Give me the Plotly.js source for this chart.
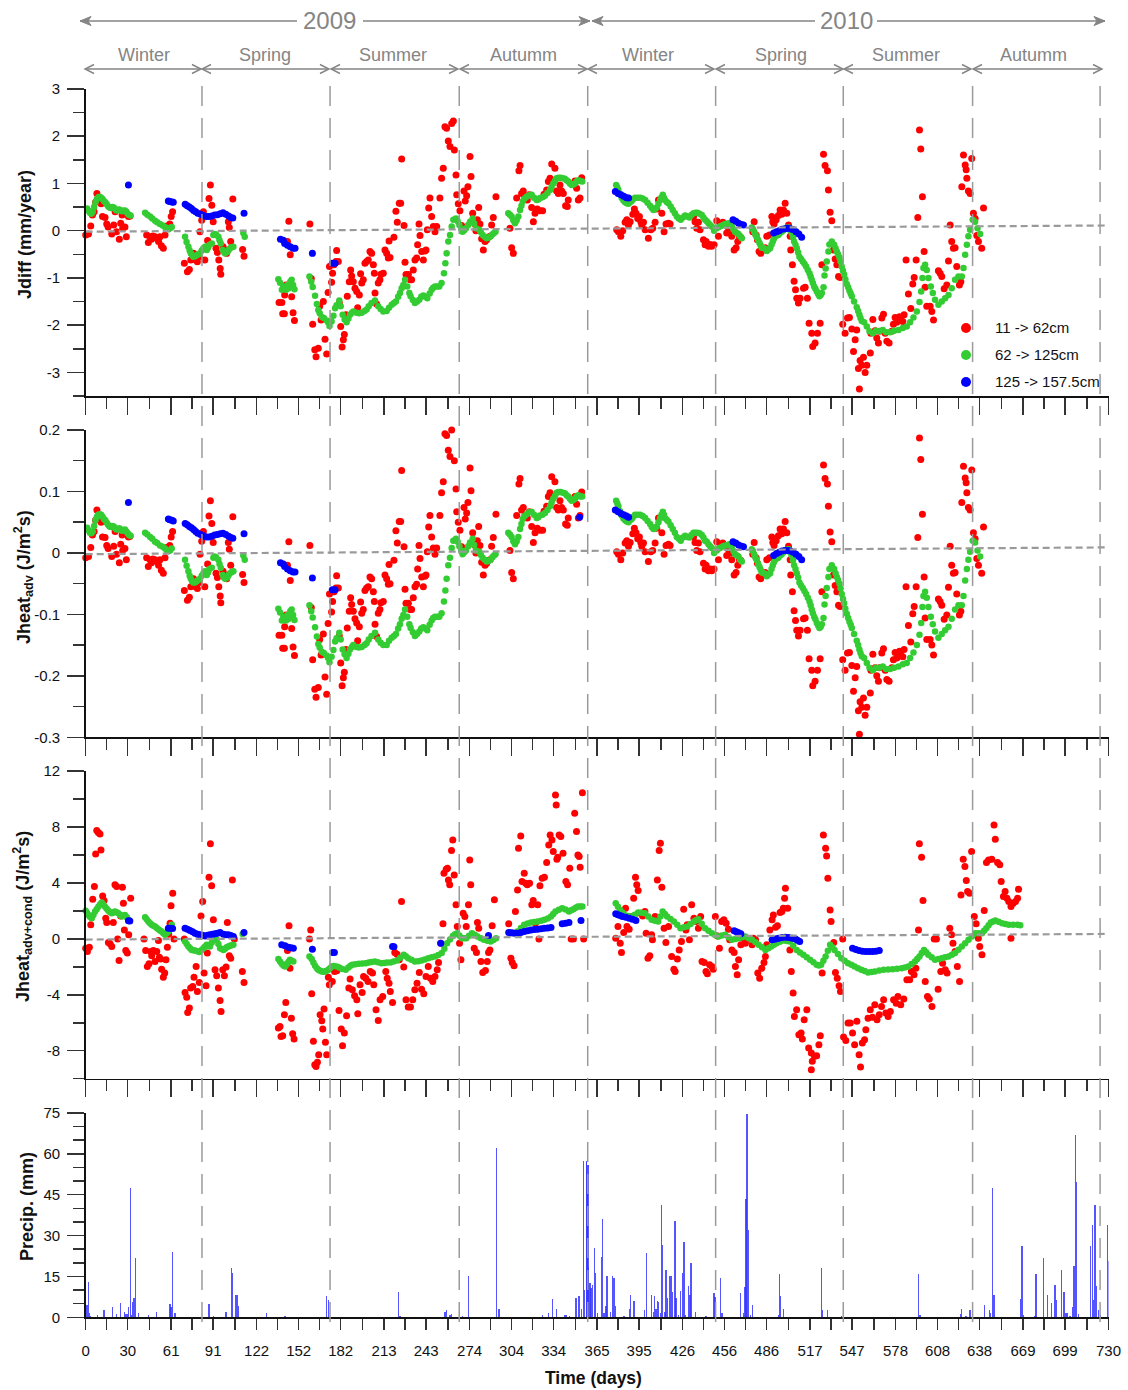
<!DOCTYPE html>
<html><head><meta charset="utf-8">
<script src="https://cdn.plot.ly/plotly-3.0.1.min.js"></script>
<style>html,body{margin:0;padding:0;background:#fff}#chart{width:1128px;height:1390px}</style>
</head><body><div id="chart"></div>
<script>
// ---------------- DATA ----------------
// [day, Jdiff (mm/year), Jheat_adv (J/m2s)]
const red12 = [
[0,-0.09,-0.008],[2,-0.07,-0.006],[3.6,0.1,0.009],[4.8,0.33,0.029],[6,0.4,0.035],[7,0.6,0.053],[8,0.79,0.07],[9.5,0.69,0.061],[11,0.57,0.05],[12,0.3,0.026],[13.8,0.28,0.025],[15,0.14,0.012],[16,0.08,0.007],[18.6,-0.07,-0.006],[20,0.12,0.011],[21,0.4,0.035],[22,-0.02,-0.002],[24,-0.18,-0.016],[25,0.16,0.014],[26,0.33,0.029],[26.4,0.05,0.004],[28,0.08,0.007],[29,-0.13,-0.011],[30.5,0.3,0.026],[31.6,0.31,0.027],
[43.5,-0.09,-0.008],[44.7,-0.25,-0.022],[46,-0.13,-0.011],[47,-0.18,-0.016],[48,-0.11,-0.01],[49.5,-0.13,-0.011],[51,-0.16,-0.014],[52,-0.23,-0.02],[53,-0.13,-0.011],[54,-0.32,-0.028],[55.4,-0.37,-0.033],[56.6,-0.09,-0.008],[58,0.1,0.009],[59,0.05,0.004],[60,0.14,0.012],[61,0.3,0.026],[62,0.4,0.035],
[70.4,-0.69,-0.061],[72.6,-0.87,-0.077],[74,-0.82,-0.072],[75,-0.62,-0.055],[77,-0.48,-0.042],[78.5,-0.62,-0.055],[79.7,-0.66,-0.058],[81,-0.55,-0.048],[81.6,-0.02,-0.002],[82.8,0.22,0.019],[84,0.4,0.035],[85,-0.62,-0.055],[87,-0.21,-0.018],[88,0.68,0.06],[89,0.97,0.085],[90,0.54,0.048],[91,0.19,0.017],[93,-0.37,-0.033],[94,-0.46,-0.04],[95,-0.62,-0.055],[96,-0.8,-0.07],[96.4,-0.92,-0.081],[98,-0.34,-0.03],[99.5,-0.41,-0.036],[100.6,-0.48,-0.042],[101.8,0.19,0.017],[102.5,0.07,0.006],[103.5,-0.23,-0.02],[105,0.67,0.059],[112,-0.4,-0.035],[113,-0.54,-0.048],
[138,-1.52,-0.134],[140,-1.52,-0.134],[140.6,-1.76,-0.155],[141.8,-1.76,-0.155],[142,-1.36,-0.12],[143,-1.15,-0.101],[144,-0.23,-0.02],[145,0.2,0.018],[146,-0.51,-0.045],[147,-1.4,-0.123],[148,-1.74,-0.153],[149,-1.9,-0.167],
[160,0.14,0.012],[161,-1.01,-0.089],[162,-1.98,-0.174],[163.5,-2.52,-0.222],[164.4,-2.67,-0.235],[166,-2.49,-0.219],[167,-1.6,-0.141],[168,-1.89,-0.166],[169.6,-1.5,-0.132],[170.8,-2.3,-0.202],[172,-2.61,-0.23],[173,-1.31,-0.115],[174,-0.76,-0.067],[175.5,-1.09,-0.096],[176.2,-0.9,-0.079],[177.2,-0.72,-0.063],[178.6,-0.65,-0.057],[179.1,-0.42,-0.037],[180.3,-0.65,-0.057],[181,-1.53,-0.135],[182,-2.03,-0.179],[183,-2.46,-0.216],[183.9,-2.31,-0.203],[184.6,-2.2,-0.194],[185.8,-1.78,-0.157],[186.7,-1.39,-0.122],[188.1,-1.08,-0.095],[189.1,-0.83,-0.073],[189.8,-0.96,-0.084],[191,-1.08,-0.095],[192.2,-1.22,-0.107],[193.4,-1.29,-0.114],[194.1,-1.63,-0.143],[195.3,-1.36,-0.12],[196.2,-0.91,-0.08],[197,-1.11,-0.098],[198.1,-1.04,-0.092],[199.3,-0.69,-0.061],[200.5,-0.65,-0.057],[201.7,-0.62,-0.055],[202.9,-0.44,-0.039],[204.1,-0.48,-0.042],[205.3,-0.72,-0.063],[206,-0.9,-0.079],[206.5,-1.32,-0.116],[207.6,-1.55,-0.136],[208.8,-1.11,-0.098],[210,-1.04,-0.092],[210.7,-0.92,-0.081],[212.4,-0.9,-0.079],[213.6,-0.41,-0.036],[214.8,-0.48,-0.042],[216,-0.58,-0.051],[216.5,-0.22,-0.019],[217.2,-0.57,-0.05],[220,-0.14,-0.012],[221.4,0.41,0.036],[222.4,0.18,0.016],[223.8,0.58,0.051],[224.8,0.58,0.051],[225.5,1.52,0.134],[227.2,0.11,0.01],[227.9,-0.67,-0.059],[228.6,-0.93,-0.082],[230.3,-0.93,-0.082],[231.5,-1.04,-0.092],[232.6,-1.04,-0.092],[233.8,-0.83,-0.073],[235,-0.62,-0.055],[236.2,-0.58,-0.051],[236.9,-0.3,-0.026],[237.9,0.14,0.012],[238.6,-0.1,-0.009],[239.8,-0.44,-0.039],[241,-0.62,-0.055],[242.1,-0.43,-0.038],[242.9,-0.41,-0.036],[243.8,0.02,0.002],[244.8,0.48,0.042],[245.7,0.69,0.061],[246.9,0.3,0.026],[248.1,0.09,0.008],[249.3,-0.02,-0.002],[250.5,0.09,0.008],[252.8,0.69,0.061],[254,1.11,0.098],[255.2,1.32,0.116],[256.4,2.2,0.194],[257.6,2.17,0.191],[258.8,1.9,0.167],[260,1.78,0.157],[261.2,2.27,0.2],[262.4,2.32,0.204],[263.1,1.71,0.15],[264.3,1.18,0.104],[264.8,0.76,0.067],[265.9,0.57,0.05],[267.1,0.42,0.037],[268.3,0.11,0.01],[270,0.84,0.074],[270.9,0.63,0.055],[271.9,0.74,0.065],[272.8,0.93,0.082],[274.3,1.57,0.138],[275,1.15,0.101],[276.2,0.37,0.033],[277.8,0.14,0.012],[278.5,0,0],[279.5,0.23,0.02],[280.5,0.49,0.043],[281.4,0.14,0.012],[282.6,-0.17,-0.015],[283.8,-0.41,-0.036],[285,-0.23,-0.02],[286.2,-0.19,-0.017],[288.5,-0.12,-0.011],[289.7,0.12,0.011],[290.9,0.28,0.025],[292.8,0.72,0.063],[302.8,0.05,0.004],[304,-0.36,-0.032],[305.2,-0.48,-0.042],[306.4,0.19,0.017],[307.6,0.69,0.061],[309.2,1.27,0.112],[310,1.38,0.121],[311.1,0.79,0.07],[312.3,0.84,0.074],[313.5,0.69,0.061],[315.2,0.65,0.057],[316.6,0.76,0.067],[318.3,0.49,0.043],[319.5,0.19,0.017],[320.7,0.37,0.033],[322.3,0.46,0.04],[324.2,0.42,0.037],[326.1,0.42,0.037],[327.1,0.77,0.068],[329,0.86,0.076],[330.2,1.04,0.092],[331.4,1.11,0.098],[332.6,1.41,0.124],[333.7,1.05,0.092],[334.9,1.32,0.116],[336.1,0.84,0.074],[337.3,0.79,0.07],[338.5,0.97,0.085],[339.7,0.84,0.074],[340.9,0.79,0.07],[342.5,0.53,0.047],[343.7,0.51,0.045],[344.4,0.65,0.057],[349.2,1.05,0.092],[350.4,0.9,0.079],[351.6,0.65,0.057],[352.8,0.69,0.061],[354,1.12,0.099],
[379,0.02,0.002],[380.2,-0.02,-0.002],[381.9,-0.12,-0.011],[383.3,0,0],[385,0.18,0.016],[386.2,0.23,0.02],[387.4,0.12,0.011],[388.6,0.19,0.017],[390.5,0.35,0.031],[391.6,0.46,0.04],[392.8,0.37,0.033],[394,0.26,0.023],[395.2,0.3,0.026],[396.2,0.19,0.017],[396.9,0.12,0.011],[398.1,0.18,0.016],[399.3,0.02,0.002],[401.6,-0.16,-0.014],[403.3,0.02,0.002],[404.7,0.05,0.004],[406.4,0.18,0.016],[407.6,0.46,0.04],[408.8,0.65,0.057],[411.2,0.37,0.033],[412.8,-0.02,-0.002],[414.2,0.14,0.012],[415.9,0.16,0.014],[417.1,0.14,0.012],[433.8,0.3,0.026],[434.9,0.19,0.017],[436.1,0.05,0.004],[437.3,0.18,0.016],[438.5,0.02,0.002],[440.9,-0.19,-0.017],[442.1,-0.3,-0.026],[442.8,-0.23,-0.02],[444.5,-0.33,-0.029],[445.7,-0.29,-0.026],[446.8,-0.33,-0.029],[448.5,-0.3,-0.026],[450.4,0.21,0.018],[451.6,-0.12,-0.011],[453.3,0.12,0.011],[454.7,0.18,0.016],[455.6,0.14,0.012],[457.5,-0.05,-0.004],[458.7,0.07,0.006],[459.9,0,0],[461.1,-0.12,-0.011],[462.8,-0.41,-0.036],[464.2,-0.36,-0.032],[465.4,-0.23,-0.02],[466.6,-0.12,-0.011],[467.5,-0.14,-0.012],[476.1,-0.02,-0.002],[477.1,0.19,0.017],[478.5,-0.09,-0.008],[479.4,-0.19,-0.017],[480.6,-0.44,-0.039],[481.8,-0.48,-0.042],[483.2,-0.41,-0.036],[484.9,-0.36,-0.032],[486.1,-0.12,-0.011],[488,-0.09,-0.008],[489.7,0.3,0.026],[490.4,0.19,0.017],[491.3,0.14,0.012],[492.8,0.23,0.02],[494.4,0.32,0.028],[495.6,0.44,0.039],[496.8,0.35,0.031],[498,0.44,0.039],[499.2,0.58,0.051],[500.4,0.37,0.033],[501.6,0.12,0.011],[502.8,-0.12,-0.011],[503.2,-0.41,-0.036],[504.4,-0.72,-0.063],[505.6,-1.07,-0.094],[506.6,-1.25,-0.11],[507.5,-1.43,-0.126],[508.7,-1.53,-0.135],[509.9,-1.43,-0.126],[512.3,-1.22,-0.107],[513.5,-1.2,-0.106],[515.1,-1.43,-0.126],[516.3,-1.96,-0.172],[518.2,-2.17,-0.191],[518.9,-2.45,-0.216],[520.6,-2.38,-0.209],[522.3,-2.17,-0.191],[524.2,-1.96,-0.172],[525.4,-0.72,-0.063],[526.6,1.62,0.143],[527.7,1.38,0.121],[529.4,1.27,0.112],[530.1,0.86,0.076],[531.3,0.39,0.034],[532.5,0.21,0.018],[533.7,-0.41,-0.036],[534.9,-0.6,-0.053],[536.1,-0.72,-0.063],[537.3,-0.97,-0.085],[538.4,-0.99,-0.087],[540.3,-1.98,-0.174],[542,-2.17,-0.191],[543.7,-1.85,-0.163],[545.1,-1.84,-0.162],[546.8,-2.08,-0.183],[548,-2.56,-0.225],[549.2,-2.31,-0.203],[550.3,-2.1,-0.185],[551.5,-2.92,-0.257],[552.2,-3.35,-0.295],[552.7,-2.75,-0.242],[553.9,-2.85,-0.251],[555.1,-2.68,-0.236],[556.3,-3,-0.264],[557.5,-2.85,-0.251],[560,-2.59,-0.228],[560.4,-2.17,-0.191],[561.8,-1.88,-0.165],[563.4,-2.12,-0.187],[564.6,-2.27,-0.2],[565.8,-2.38,-0.209],[566.5,-2.13,-0.187],[568.2,-1.85,-0.163],[569.4,-1.77,-0.156],[570.6,-2.17,-0.191],[571.8,-2.34,-0.206],[573.4,-2.38,-0.209],[575.3,-2.13,-0.187],[576.5,-1.98,-0.174],[577.7,-1.84,-0.162],[578.9,-1.94,-0.171],[580.8,-1.82,-0.16],[581.7,-1.89,-0.166],[583.2,-1.92,-0.169],[584.1,-1.78,-0.157],[585.5,-0.62,-0.055],[587.2,-1.34,-0.118],[588.9,-1.65,-0.145],[590.3,-1.13,-0.099],[591.3,-0.99,-0.087],[592.7,-0.62,-0.055],[593.9,0.28,0.025],[595.1,2.13,0.187],[596,1.73,0.152],[597.2,0.72,0.063],[598.4,-0.44,-0.039],[599.1,-1.2,-0.106],[600.3,-1.6,-0.141],[602.7,-1.6,-0.141],[603.9,-1.71,-0.15],[605.1,-1.89,-0.166],[608.6,-0.85,-0.075],[609.8,-0.9,-0.079],[611,-0.97,-0.085],[612.7,-1.23,-0.108],[614.6,-1.15,-0.101],[615.8,-0.64,-0.056],[617,0.12,0.011],[618.1,-0.23,-0.02],[619.3,-0.37,-0.033],[620.5,-0.36,-0.032],[621.7,-0.76,-0.067],[623.6,-1.15,-0.101],[624.6,-1.08,-0.095],[625.3,0.93,0.082],[626.5,1.6,0.141],[627.7,1.39,0.122],[628.4,1.29,0.114],[628.9,1.11,0.098],[630,0.84,0.074],[631.2,0.79,0.07],[632.4,1.53,0.135],[633.6,0.37,0.033],[634.8,0.26,0.023],[636,-0.1,-0.009],[637.2,-0.23,-0.02],[639.5,-0.37,-0.033],[640.8,0.48,0.042]
];
const green12 = [
[1,0.47,0.041],[2,0.42,0.037],[3,0.38,0.033],[4,0.36,0.032],[5,0.4,0.035],[6,0.5,0.044],[7,0.6,0.053],[8,0.67,0.059],[9,0.71,0.062],[10,0.72,0.063],[11,0.7,0.062],[12,0.67,0.059],[13,0.63,0.055],[14,0.6,0.053],[15,0.56,0.049],[16,0.52,0.046],[17,0.49,0.043],[18,0.48,0.042],[19,0.5,0.044],[20,0.49,0.043],[21,0.46,0.04],[22,0.43,0.038],[23,0.44,0.039],[24,0.45,0.04],[25,0.43,0.038],[26,0.41,0.036],[27,0.42,0.037],[28,0.43,0.038],[29,0.4,0.035],[30,0.36,0.032],[31,0.33,0.029],[32,0.32,0.028],
[42.4,0.38,0.033],[44,0.34,0.03],[46,0.3,0.026],[47.5,0.26,0.023],[49.5,0.21,0.018],[51,0.18,0.016],[53,0.14,0.012],[55,0.11,0.01],[56.6,0.08,0.007],[58,0.05,0.004],[59,0.03,0.003],[60.2,0.05,0.004],[61.4,0.08,0.007],
[70.9,-0.13,-0.011],[72,-0.24,-0.021],[73.3,-0.34,-0.03],[74.2,-0.42,-0.037],[75,-0.48,-0.042],[76,-0.52,-0.046],[76.8,-0.55,-0.048],[78,-0.54,-0.048],[79.2,-0.52,-0.046],[80.4,-0.5,-0.044],[81.6,-0.48,-0.042],[82.8,-0.42,-0.037],[84,-0.37,-0.033],[85.2,-0.34,-0.03],[86.4,-0.41,-0.036],[87.3,-0.36,-0.032],[88.3,-0.3,-0.026],[90,-0.27,-0.024],[91.1,-0.09,-0.008],[92,-0.07,-0.006],[93,-0.08,-0.007],[94.7,-0.13,-0.011],[95.5,-0.2,-0.018],[96.4,-0.27,-0.024],[97.8,-0.41,-0.036],[98.6,-0.45,-0.04],[99.5,-0.48,-0.042],[101.1,-0.45,-0.04],[102,-0.41,-0.036],[103,-0.37,-0.033],[104.2,-0.35,-0.031],[105.4,-0.34,-0.03],[112.5,-0.05,-0.004],[113.5,-0.13,-0.011],
[137.5,-1.03,-0.091],[138.7,-1.1,-0.097],[140,-1.25,-0.11],[141,-1.18,-0.104],[142,-1.2,-0.106],[143,-1.25,-0.11],[144,-1.15,-0.101],[145,-1.22,-0.107],[146,-1.08,-0.095],[147,-1.04,-0.092],[148,-1.15,-0.101],[149,-1.24,-0.109],
[159.7,-0.97,-0.085],[161,-1.08,-0.095],[162,-1.19,-0.105],[163.7,-1.38,-0.121],[165,-1.55,-0.136],[166,-1.68,-0.148],[167,-1.75,-0.154],[168.5,-1.83,-0.161],[170,-1.85,-0.163],[172,-1.9,-0.167],[173,-1.94,-0.171],[174,-2.02,-0.178],[175.5,-1.92,-0.169],[176.8,-1.8,-0.158],[178,-1.64,-0.144],[179,-1.58,-0.139],[181,-1.48,-0.13],[182,-1.6,-0.141],[183.4,-1.78,-0.157],[184.8,-1.88,-0.165],[186.2,-1.94,-0.171],[187.5,-1.86,-0.164],[188.6,-1.78,-0.157],[190,-1.74,-0.153],[191,-1.71,-0.15],[193.4,-1.74,-0.153],[195,-1.75,-0.154],[197,-1.74,-0.153],[199,-1.7,-0.15],[200.5,-1.67,-0.147],[202,-1.6,-0.141],[204,-1.53,-0.135],[206.5,-1.48,-0.13],[208.8,-1.6,-0.141],[210.5,-1.66,-0.146],[212.4,-1.71,-0.15],[214.8,-1.7,-0.15],[216.5,-1.63,-0.143],[218.4,-1.57,-0.138],[220,-1.53,-0.135],[221.4,-1.5,-0.132],[223,-1.4,-0.123],[224.3,-1.32,-0.116],[225.5,-1.22,-0.107],[226.7,-1.15,-0.101],[227.9,-1.04,-0.092],[229.5,-1.18,-0.104],[231,-1.32,-0.116],[231.9,-1.39,-0.122],[233.5,-1.47,-0.129],[235,-1.53,-0.135],[236.5,-1.5,-0.132],[238.1,-1.46,-0.128],[239.5,-1.4,-0.123],[241,-1.37,-0.121],[242.5,-1.4,-0.123],[243.8,-1.43,-0.126],[245.5,-1.33,-0.117],[246.9,-1.25,-0.11],[248,-1.21,-0.106],[249.3,-1.18,-0.104],[251,-1.18,-0.104],[252.4,-1.18,-0.104],[254,-1.11,-0.098],[255.7,-0.9,-0.079],[256.7,-0.69,-0.061],[257.6,-0.48,-0.042],[258.8,-0.23,-0.02],[260,-0.09,-0.008],[261.2,0.09,0.008],[262.4,0.23,0.02],[264.3,0.26,0.023],[265.5,0.2,0.018],[266.7,0.12,0.011],[268,0.04,0.004],[269,-0.02,-0.002],[270.2,0.01,0.001],[271.4,0.05,0.004],[273,0.12,0.011],[274.3,0.19,0.017],[276.2,0.26,0.023],[277.3,0.15,0.013],[278.5,0.05,0.004],[280.9,0.02,0.002],[282,-0.03,-0.003],[283.3,-0.09,-0.008],[284.8,-0.13,-0.011],[286.2,-0.16,-0.014],[287.5,-0.15,-0.013],[289,-0.12,-0.011],[290.2,-0.08,-0.007],[291.4,-0.05,-0.004],[292.5,-0.02,-0.002],
[301.6,0.37,0.033],[302.8,0.34,0.03],[304,0.3,0.026],[305.2,0.22,0.019],[306.4,0.16,0.014],[307.6,0.22,0.019],[308.8,0.3,0.026],[310,0.44,0.039],[311,0.53,0.047],[311.9,0.62,0.055],[313.3,0.68,0.06],[314.7,0.72,0.063],[316.5,0.75,0.066],[318.3,0.76,0.067],[320,0.7,0.062],[321.9,0.65,0.057],[323,0.66,0.058],[324.2,0.69,0.061],[326,0.71,0.062],[327.8,0.74,0.065],[329.6,0.8,0.07],[331.4,0.86,0.076],[332.5,0.93,0.082],[333.7,1,0.088],[335,1.06,0.093],[336.1,1.11,0.098],[337.5,1.12,0.099],[339,1.12,0.099],[340.5,1.11,0.098],[342,1.1,0.097],[343.2,1.07,0.094],[344.4,1.04,0.092],[345.6,1,0.088],[346.8,0.97,0.085],[348,0.98,0.086],[349.2,1,0.088],[350.4,1.04,0.092],[351.6,1.07,0.094],[353,1.05,0.092],[354.4,1.04,0.092],
[378.6,0.97,0.085],[379.4,0.92,0.081],[380.2,0.86,0.076],[381.4,0.77,0.068],[382.6,0.69,0.061],[383.8,0.64,0.056],[385,0.6,0.053],[386.2,0.58,0.051],[387.4,0.57,0.05],[388.5,0.6,0.053],[389.7,0.63,0.055],[390.9,0.67,0.059],[392.1,0.7,0.062],[393.9,0.7,0.062],[395.7,0.7,0.062],[397.5,0.68,0.06],[399.3,0.65,0.057],[401,0.59,0.052],[402.8,0.53,0.047],[404,0.48,0.042],[405.2,0.44,0.039],[406.4,0.46,0.04],[407.6,0.49,0.043],[408.8,0.57,0.05],[410,0.65,0.057],[411,0.71,0.062],[411.9,0.76,0.067],[412.7,0.7,0.062],[413.5,0.65,0.057],[414.7,0.61,0.054],[415.9,0.58,0.051],[417.5,0.51,0.045],[419,0.44,0.039],[420.5,0.37,0.033],[421.9,0.3,0.026],[423.3,0.26,0.023],[424.7,0.23,0.02],[426.2,0.28,0.025],[427.8,0.32,0.028],[429.4,0.3,0.026],[430.9,0.28,0.025],[432.3,0.33,0.029],[433.8,0.37,0.033],[435.2,0.38,0.033],[436.6,0.38,0.033],[438.1,0.36,0.032],[439.7,0.33,0.029],[440.9,0.28,0.025],[442.1,0.23,0.02],[443.3,0.2,0.018],[444.5,0.16,0.014],[445.7,0.12,0.011],[446.8,0.09,0.008],[448.5,0,0],[450.4,0.05,0.004],[451.9,0.08,0.007],[453.3,0.1,0.009],[454.9,0.12,0.011],[456.4,0.14,0.012],[458,0.15,0.013],[459.5,0.16,0.014],[461.1,0.09,0.008],[462.3,0.03,0.003],[463.5,-0.02,-0.002],[464.7,-0.05,-0.004],[465.9,-0.07,-0.006],[467.1,-0.12,-0.011],[468.3,-0.16,-0.014],[475.4,0.07,0.006],[476.2,0.03,0.003],[477.1,-0.02,-0.002],[478,-0.08,-0.007],[479,-0.14,-0.012],[480,-0.2,-0.018],[480.9,-0.26,-0.023],[481.7,-0.31,-0.027],[482.5,-0.36,-0.032],[484.2,-0.37,-0.033],[486.1,-0.43,-0.038],[487.3,-0.4,-0.035],[488.5,-0.37,-0.033],[489.5,-0.3,-0.026],[490.4,-0.23,-0.02],[491.2,-0.17,-0.015],[492,-0.12,-0.011],[493.2,-0.1,-0.009],[494.4,-0.09,-0.008],[495.6,-0.05,-0.004],[496.8,-0.02,-0.002],[498,0.01,0.001],[499.2,0.04,0.004],[500.4,0.06,0.005],[501.6,0.07,0.006],[502.8,0.01,0.001],[503.9,-0.05,-0.004],[504.8,-0.14,-0.012],[505.6,-0.23,-0.02],[506.6,-0.3,-0.026],[507.5,-0.37,-0.033],[508.5,-0.46,-0.04],[509.4,-0.55,-0.048],[510.6,-0.6,-0.053],[511.8,-0.65,-0.057],[513,-0.7,-0.062],[514.2,-0.76,-0.067],[515.4,-0.83,-0.073],[516.6,-0.9,-0.079],[517.4,-0.97,-0.085],[518.2,-1.04,-0.092],[519,-1.11,-0.098],[519.9,-1.18,-0.104],[520.8,-1.23,-0.108],[521.8,-1.29,-0.114],[522.8,-1.34,-0.118],[523.7,-1.39,-0.122],[524.6,-1.36,-0.12],[525.4,-1.32,-0.116],[526.6,-1.2,-0.106],[527.3,-0.95,-0.084],[528.1,-0.8,-0.07],[528.9,-0.65,-0.057],[530.1,-0.44,-0.039],[530.8,-0.29,-0.026],[532.5,-0.23,-0.02],[534.2,-0.3,-0.026],[535.2,-0.37,-0.033],[536.1,-0.44,-0.039],[537,-0.5,-0.044],[538,-0.57,-0.05],[538.8,-0.66,-0.058],[539.6,-0.76,-0.067],[540.5,-0.85,-0.075],[541.3,-0.93,-0.082],[542.2,-1.03,-0.091],[543.2,-1.13,-0.099],[544.2,-1.2,-0.106],[545.1,-1.27,-0.112],[546,-1.33,-0.117],[546.8,-1.39,-0.122],[548.4,-1.5,-0.132],[550.3,-1.62,-0.143],[551.3,-1.7,-0.15],[552.2,-1.78,-0.157],[553,-1.85,-0.163],[553.9,-1.91,-0.168],[555.6,-1.94,-0.171],[557.5,-2.03,-0.179],[559.4,-2.13,-0.187],[561.8,-2.17,-0.191],[564.1,-2.12,-0.187],[566.5,-2.13,-0.187],[568.9,-2.1,-0.185],[571.3,-2.15,-0.189],[574.1,-2.15,-0.189],[577,-2.12,-0.187],[580.1,-2.1,-0.185],[583.2,-2.06,-0.181],[586,-2.03,-0.179],[588.4,-1.94,-0.171],[590.8,-1.84,-0.162],[593.2,-1.71,-0.15],[595.1,-1.51,-0.133],[596.3,-1.29,-0.114],[597.2,-1,-0.088],[597.9,-0.79,-0.07],[599.1,-0.72,-0.063],[600.3,-0.83,-0.073],[601.5,-1,-0.088],[603.2,-1.18,-0.104],[604.6,-1.32,-0.116],[606.2,-1.46,-0.128],[608.6,-1.57,-0.138],[611,-1.5,-0.132],[613.4,-1.43,-0.126],[615.8,-1.36,-0.12],[618.1,-1.22,-0.107],[620.5,-1.04,-0.092],[622.9,-0.97,-0.085],[625.3,-0.97,-0.085],[626.5,-0.79,-0.07],[627.7,-0.51,-0.045],[628.9,-0.3,-0.026],[630,-0.12,-0.011],[631.2,0.02,0.002],[633.1,0.23,0.02],[634.8,0.19,0.017],[636.5,0.05,0.004],[638.4,-0.07,-0.006]
];
const blue12 = [
[30.5,0.97,0.082],[59,0.63,0.055],[60,0.62,0.054],[61.5,0.61,0.053],[62.5,0.6,0.052],[71,0.56,0.048],[72.5,0.53,0.046],[74,0.5,0.043],[75.5,0.47,0.041],[77,0.43,0.038],[78.5,0.4,0.035],[80,0.37,0.032],[82,0.35,0.03],[84,0.32,0.028],[86,0.3,0.026],[88,0.3,0.026],[90,0.31,0.027],[92,0.33,0.029],[94,0.34,0.03],[96,0.36,0.031],[98,0.38,0.032],[100,0.35,0.03],[102,0.31,0.027],[103.5,0.28,0.025],[105,0.27,0.024],[113,0.37,0.031],
[139,-0.18,-0.016],[141,-0.2,-0.018],[142,-0.27,-0.022],[144,-0.31,-0.026],[146,-0.34,-0.029],[148,-0.37,-0.031],[149.4,-0.37,-0.031],[161.8,-0.48,-0.041],[176,-0.69,-0.06],[178,-0.69,-0.06],[352.5,null,0.058],
[378,0.83,0.07],[380,0.79,0.067],[382,0.76,0.064],[384,0.73,0.062],[386,0.7,0.06],[387.5,0.69,0.058],[462,0.23,0.018],[464,0.2,0.016],[466,0.16,0.013],[468,0.13,0.011],[469.5,0.12,0.01],[491,-0.05,-0.004],[493,-0.02,-0.001],[495,0,0.001],[497,0.03,0.003],[499,0.04,0.004],[501,0.05,0.004],[503,0.04,0.003],[505,0.02,0.001],[507,-0.02,-0.002],[509,-0.07,-0.006],[511,-0.14,-0.011]
];
// [day, Jheat_adv+cond (J/m2s)]
const red3 = [
[0,-0.67],[1.2,-0.9],[2.6,-0.6],[3.6,1],[5,2.83],[6.2,3.74],[7.1,6.07],[7.9,7.74],[9,7.6],[10.2,7.5],[10.9,6.36],[12.1,3.07],[13.1,2.74],[14.3,1.48],[15,1.17],[16.2,-0.26],[17.4,-0.36],[18.6,-0.55],[19.7,1.17],[20.9,3.86],[22.1,3.74],[22.8,-0.02],[23.8,-1.55],[25,1.64],[26.2,3.69],[26.9,2.55],[27.6,0.64],[28.6,-0.83],[29.7,-1.02],[30.7,0.29],[32.1,2.9],
[41.6,-0.02],[42.8,-0.83],[44,-1.98],[45.2,-1.79],[46.4,-0.9],[47.1,-1.21],[48.3,-0.83],[49.5,-1.62],[50.7,-0.9],[51.9,-0.12],[52.6,-1.31],[53.5,-1.45],[54.2,-2.17],[55.4,-2.74],[56.4,-2.45],[57.3,-1.5],[58.3,-0.6],[59.2,0.33],[60.2,1.12],[60.9,2.36],[62.1,3.26],[63,-0.02],
[70.4,-0.02],[70.9,-3.83],[72.1,-4.17],[72.8,-5.26],[74,-4.95],[74.9,-3.52],[76.4,-3.4],[77.3,-2.74],[78.8,-1.98],[79.7,-3.76],[81.1,-3.12],[82.3,1.64],[83.5,2.67],[84.5,-2.45],[85.9,-3.36],[86.8,-1.02],[88,4.4],[89,6.79],[89.9,3.79],[91.1,1.36],[92.3,-2.21],[93.5,-2.64],[94.7,-3.52],[95.9,-4.4],[96.6,-5.19],[97.8,-2.21],[99,-2.64],[100.2,-2.02],[101.1,1.17],[102.5,-1.21],[103.5,-1.38],[104.7,4.21],[106.1,-0.02],[111.8,-2.33],[113,-3.12],
[137.5,-6.38],[138.7,-6.26],[139.4,-6.98],[140.6,-6.93],[141.8,-5.43],[142.8,-4.55],[144,-0.83],[145.1,0.93],[145.8,-2.1],[146.8,-5.67],[147.7,-6.79],[148.7,-7.17],
[159.7,-0.02],[160.6,0.64],[161.3,-3.93],[162.5,-7.33],[163.5,-9],[164.4,-9.12],[165.4,-8.83],[166.3,-8.29],[167.3,-5.43],[168.5,-5.86],[169.2,-6.45],[170.1,-5.02],[171.1,-7.4],[172,-8.29],[173.2,-2.74],[173.9,-3.29],
[176,-3.05],[177.6,-2.33],[179.2,-2.29],[180.8,-5.12],[182.4,-6.45],[183.3,-7.64],[184.6,-6.74],[186.2,-5.5],[187.8,-3.52],[188.7,-2.88],[190.3,-3.64],[191.9,-4.07],[193.5,-4.36],[194.2,-5.36],[195.8,-3.29],[197.3,-3.83],[198.3,-2.69],[199.9,-2.81],[201.5,-3.05],[203.1,-2.33],[204.7,-2.45],[205.6,-3.29],[207.2,-5.07],[208.8,-5.83],[210.1,-4.36],[212,-4.12],[214.2,-2.33],[215.2,-2.81],[216.5,-3.17],[217.4,-3.76],[219,-4.55],[220.6,-0.98],[222.2,-1.1],[223.8,-1.5],[225.4,2.67],[227,-2.02],[228.6,-4.36],[230.2,-4.88],[231.8,-4.88],[233.4,-4.36],[234.9,-3.64],[236.5,-3.17],[238.1,-2.4],[239.7,-3.6],[241.3,-3.93],[242.9,-2.69],[244.5,-1.98],[246.1,-2.81],[247.7,-3.05],[249.3,-2.69],[250.9,-2.21],[251.8,-1.69],[253.4,-0.31],[255,1.07],[255.7,4.69],[257.3,4.98],[258.2,5.05],[258.9,4.21],[259.8,3.86],[261.1,6.31],[262,7.07],[263,4.57],[264.3,2.43],[265.2,0.88],[266.8,-0.31],[267.8,-1.5],[269.4,1.83],[270.6,1.6],[271.6,0.88],[273.2,2.43],[274.1,5.64],[274.8,3.86],[276.4,0.29],[277.3,-0.67],[278.9,-0.98],[279.6,1.17],[280.5,0.76],[282.1,-1.62],[283.4,-2.4],[285.3,-2.26],[286.6,-1.62],[287.5,-0.98],[288.5,-0.79],[290.1,0.93],[291.7,2.79],
[301.9,1.07],[303.5,-1.38],[304.4,-1.69],[305.7,-1.93],[306.7,1.95],[308.2,3.5],[308.9,6.48],[310.5,7.36],[311.4,4.1],[313,4.69],[314,3.98],[315.2,3.86],[316.8,3.98],[318.4,2.43],[319.4,2.74],[321,1.12],[322.6,2.43],[323.5,-0.02],[324.2,3.79],[325.8,4.33],[327.4,4.4],[329,5.45],[330.5,6.71],[331.5,7.43],[332.8,7.07],[333.7,6.24],[335.3,10.29],[335.8,9.57],[336.3,5.69],[336.9,5.83],[337.9,7.43],[339.1,7.31],[340.7,6.12],[342.7,4.1],[343.9,3.86],[345.5,5.05],[346.5,-0.02],[348.1,-0.02],[349,8.98],[350.3,7.67],[351.3,6],[352.2,5.88],[352.9,5.12],[354.5,10.45],[355.4,-0.02],
[378.3,0.05],[379.9,0.88],[381.5,-0.31],[382.4,-0.98],[384,0.45],[385.3,2.19],[386.3,0.88],[387.9,0.69],[389.5,1.6],[391.1,2.9],[392.4,4.4],[393.3,3.86],[394.3,3.45],[395.9,1.83],[397.5,1.64],[399.1,1.95],[400,0.4],[401.3,-1.38],[402.6,-1.21],[403.9,0.29],[404.5,-0.07],[406.4,1.6],[408,4.21],[409.3,6.31],[410.2,6.83],[411.2,3.69],[412.8,0.76],[414.1,-0.26],[416,0.88],[418.2,-1.26],[419.8,-2.17],[420.7,-2.33],[422.3,-1.45],[423.6,-0.79],[425.2,-0.19],[426.8,2.12],[428.4,0.64],[429.3,1],[430.9,-0.07],[432.5,2.43],[434.1,1.48],[435.7,1.24],[437.3,0.76],[438.9,1.6],[439.9,-1.62],[441.5,-1.69],[442.7,-2.33],[443.7,-2.5],[445.3,-1.86],[446.9,-1.98],[447.9,-2.17],[449.4,1.6],[451,0.21],[452.3,-0.67],[453.9,1.24],[455.5,1.36],[457.1,1.12],[458.7,0.69],[459.6,-0.07],[461.2,-0.79],[462.8,-0.98],[463.7,-1.98],[465,-2.57],[466,-1.5],[467.6,-0.43],[469.2,0.05],[470.8,-0.31],[473.3,-0.02],[475.6,-0.43],[476.5,0.05],[478.1,-0.07],[479.7,-2.45],[481,-2.81],[482.5,-2.1],[484.1,-1.69],[485.1,-1.26],[486.1,-0.43],[488.3,0.64],[489.9,1.36],[490.8,1.71],[492.4,0.83],[493.7,0.93],[495.6,1.88],[496.9,1.95],[497.9,2.19],[498.8,2.9],[499.4,3.62],[501,2.19],[502.6,-0.79],[503.6,-2.33],[504.9,-3.88],[505.8,-5.55],[507.4,-5.07],[509,-6.86],[510.6,-6.74],[511.5,-7.17],[512.8,-5.79],[514.7,-5.07],[516,-7.81],[517.9,-8.17],[517.9,-9.36],[518.6,-8.76],[520.2,-8.4],[521.7,-8.36],[523.3,-7.57],[524.3,-6.93],[525.6,-2.45],[526.5,7.43],[528.1,6.48],[528.8,5.93],[529.7,4.33],[531.3,2.07],[532,1.24],[533.9,-0.26],[535.1,-2.4],[536.4,-2.81],[537.7,-3.36],[538.7,-3.76],[540.3,-0.02],[540.9,-7.02],[542.5,-7.26],[544.1,-6.02],[545.7,-6.02],[547.3,-6.74],[548.8,-7.57],[550.4,-5.9],[552,-8.29],[553,-9.17],[554.3,-7.45],[555.9,-7.21],[556.8,-6.5],[558.4,-5.67],[560,-5.07],[561.6,-5.6],[563.2,-4.71],[564.8,-5.79],[566.4,-5.43],[568,-4.83],[569.5,-4.36],[571.1,-5.31],[572.7,-5.55],[574.3,-5.19],[576.6,-4.36],[578.5,-4.6],[579.7,-4.12],[581.7,-4.71],[583.9,-4.31],[586.1,-2.93],[588.1,-2.93],[589.3,-2.33],[591.2,-2.57],[592.5,-2.1],[594.4,0.64],[595,6.79],[596.6,5.83],[597.6,2.74],[599.2,-3.05],[600.8,-4.12],[602.1,-4.31],[604,-4.83],[605.6,-0.02],[607.2,-0.02],[608.4,-3.6],[610.3,-2.33],[611.6,-1.74],[613.5,-2.21],[614.8,-2.45],[616.7,0.76],[618,0.29],[619,-0.31],[620.5,-0.9],[622.1,-1.98],[623.7,-3.05],[624.7,3.14],[626.3,5.69],[627.5,5.17],[628.5,4.17],[629.4,3.38],[630.8,3.26],[632.3,6.24],[634.2,1.6],[635.5,1.07],[637.1,0.05],[638.1,-0.55],[639.7,-1.14],[641.3,2.02],[642.9,5.45],[644.4,5.64],[646.7,5.69],[648.3,8.14],[649.2,7.12],[650.8,5.45],[652.4,5.29],[653.4,4.1],[655,3.02],[656.2,3.38],[657.5,2.9],[658.8,2.67],[660.4,2.31],[660.4,0.05],[662,2.55],[663.6,2.67],[665.1,2.9],[665.8,3.55]
];
const green3 = [
[0,2],[1,1.85],[1.9,1.7],[3,1.58],[4.3,1.48],[5.5,1.7],[6.7,1.95],[7.8,2.12],[9,2.3],[10.2,2.45],[11.4,2.6],[12.6,2.45],[13.8,2.3],[15,2.15],[16.2,2],[17.4,1.9],[18.6,1.83],[19.8,1.88],[20.9,1.95],[22.1,1.9],[23.3,1.83],[24.5,1.72],[25.7,1.6],[26.9,1.65],[28,1.7],[29.3,1.55],[30.5,1.36],
[42.4,1.55],[43.5,1.4],[44.7,1.24],[45.9,1.12],[47.1,1],[48.3,0.94],[49.5,0.88],[50.7,0.78],[51.9,0.69],[53,0.6],[54.2,0.52],[55.4,0.4],[56.6,0.29],[57.8,0.4],[59,0.52],[60.2,0.76],[61.4,1],
[70.9,-0.19],[72.1,-0.37],[73.3,-0.55],[74.5,-0.67],[75.7,-0.79],[76.9,-0.81],[78,-0.83],[79.6,-0.89],[81.1,-0.95],[82.5,-0.81],[84,-0.67],[85.2,-0.55],[86.4,-0.43],[87.5,-0.49],[88.7,-0.55],[89.9,-0.28],[91.1,-0.02],[92.3,-0.04],[93.5,-0.07],[94.7,-0.37],[95.9,-0.67],[97.1,-0.73],[98.3,-0.79],[99.5,-0.7],[100.6,-0.6],[101.8,-0.55],[103,-0.5],[104.2,-0.46],[105.4,-0.43],[112,0.35],
[137.5,-1.45],[138.7,-1.62],[139.9,-1.79],[141.1,-1.9],[142.3,-1.98],[143.2,-1.85],[144,-1.74],[145,-1.62],[145.8,-1.5],[147,-1.56],[148.2,-1.62],
[159.7,-1.26],[161.3,-1.45],[162.5,-1.7],[163.7,-1.93],[165,-2.1],[166,-2.21],[167.3,-2.28],[168.5,-2.33],[169.7,-2.35],[170.8,-2.33],[172,-2.28],[173.2,-2.21],[174.4,-2.1],[175.6,-1.98],[177,-1.95],[179.2,-1.98],[181,-2.05],[183,-2.15],[185.6,-2.21],[187.5,-2.05],[189,-1.92],[190.3,-1.86],[192.5,-1.82],[195,-1.78],[197.5,-1.76],[199.9,-1.74],[202,-1.7],[204,-1.66],[206.3,-1.62],[208.5,-1.68],[211,-1.74],[213,-1.72],[215,-1.7],[217.4,-1.69],[219.8,-1.62],[222.2,-1.55],[224.5,-1.35],[227,-1.14],[228.5,-1.25],[230.2,-1.38],[232.5,-1.5],[234.9,-1.62],[237.3,-1.6],[239.7,-1.55],[242,-1.47],[244.5,-1.38],[246.9,-1.32],[249.3,-1.26],[251.7,-1.15],[254.1,-1.02],[256,-0.7],[257.9,-0.31],[260,-0.05],[262,0.21],[263.6,0.32],[265.2,0.4],[266.8,0.22],[268.4,0.05],[270,0.04],[271.6,0.05],[273.6,0.22],[275.7,0.4],[277.6,0.3],[279.6,0.17],[282,0.05],[284.3,-0.07],[286.7,-0.14],[289.1,-0.19],[291,-0.08],[292.9,0.05],
[308.2,0.52],[310.6,0.78],[313,1],[315.4,1.1],[317.8,1.17],[320.2,1.2],[322.6,1.24],[325,1.3],[327.4,1.36],[329.8,1.45],[332.1,1.6],[333.7,1.78],[335.3,1.95],[337.7,2.08],[340.1,2.19],[342.5,2.1],[344.9,1.95],[346.5,2.05],[348.1,2.12],[349.7,2.22],[351.3,2.31],[353,2.32],[354.5,2.31],
[378.3,2.55],[379.9,2.3],[381.5,2.07],[383.1,1.88],[384.7,1.71],[387.1,1.64],[389.5,1.6],[391.9,1.72],[394.3,1.88],[396.7,1.86],[399.1,1.83],[401.5,1.6],[403.9,1.36],[406.3,1.3],[408.6,1.24],[410.2,1.6],[411.8,1.95],[413.4,1.78],[415,1.6],[417.4,1.42],[419.8,1.24],[422.2,1],[424.5,0.76],[426.9,0.82],[429.3,0.88],[431.7,1.06],[434.1,1.24],[435.7,1.32],[437.3,1.4],[439.7,1.08],[442.1,0.76],[444.5,0.58],[446.9,0.4],[449.3,0.28],[451.6,0.17],[454,0.23],[456.4,0.29],[458.8,0.11],[461.2,-0.07],[463.6,-0.01],[466,0.05],[468.4,0.11],[470.8,0.17],[473.2,0.05],[475.6,-0.07],[478,-0.25],[480.3,-0.43],[482.7,-0.61],[485.1,-0.79],[487.2,-0.67],[489.3,-0.55],[491.2,-0.43],[493.1,-0.31],[495.5,-0.21],[497.9,-0.12],[500.3,-0.15],[502.6,-0.19],[505,-0.49],[507.4,-0.79],[509.8,-0.97],[512.2,-1.14],[514.6,-1.32],[517,-1.5],[519.4,-1.68],[521.7,-1.86],[523.3,-1.9],[524.9,-1.86],[526.5,-1.56],[528.1,-1.26],[529.7,-0.85],[531.3,-0.43],[532.9,-0.6],[534.5,-0.79],[536.9,-1.08],[539.3,-1.38],[541.7,-1.56],[544.1,-1.74],[546.5,-1.86],[548.8,-1.98],[551.2,-2.1],[553.6,-2.21],[556,-2.3],[558.4,-2.4],[560.8,-2.37],[563.2,-2.33],[566.4,-2.27],[569.5,-2.21],[572.7,-2.19],[575.9,-2.17],[579.1,-2.14],[582.3,-2.1],[584.7,-2.05],[587.1,-1.98],[589.5,-1.8],[591.9,-1.62],[593.5,-1.44],[595.1,-1.26],[596.7,-1.02],[598.3,-0.79],[599.9,-0.96],[601.4,-1.14],[603.8,-1.32],[606.2,-1.5],[608.6,-1.44],[611,-1.38],[613.4,-1.32],[615.8,-1.26],[618.2,-1.14],[620.5,-1.02],[622.9,-0.78],[625.3,-0.55],[627.7,-0.31],[630.1,-0.07],[632.5,0.17],[634.9,0.4],[637.3,0.4],[639.7,0.4],[641.2,0.58],[642.8,0.76],[644.4,0.97],[646,1.17],[647.6,1.24],[649.2,1.31],[651.6,1.22],[654,1.12],[656.4,1.06],[658.8,1],[661.9,1],[665.1,1],[667,0.98]
];
const blue3 = [
[30.5,1.3],[31.5,1.28],[59,0.76],[60.5,0.76],[62,0.74],[70.9,0.76],[72.7,0.68],[74.5,0.6],[76.3,0.5],[78,0.4],[79.8,0.33],[81.6,0.29],[83.4,0.25],[85.2,0.21],[87,0.25],[88.7,0.29],[90.5,0.33],[92.3,0.36],[94.1,0.4],[95.9,0.45],[98.3,0.33],[100,0.3],[101.8,0.29],[103.6,0.23],[105.4,0.17],[113,0.45],
[139.9,-0.43],[142.3,-0.5],[144.7,-0.6],[146.5,-0.64],[148.2,-0.67],[161.8,-0.74],[176.3,-0.98],[177.5,-0.98],[219,-0.55],[220,-0.57],[253.4,-0.31],[287.5,0.24],
[301.9,0.45],[303.5,0.43],[305,0.41],[306.6,0.4],[308.2,0.4],[310.6,0.46],[313,0.52],[315.4,0.58],[317.8,0.64],[320.2,0.66],[322.6,0.69],[325,0.72],[327.4,0.76],[329.8,0.78],[332.1,0.81],[340.1,1.07],[342.5,1.12],[344.9,1.17],[353.5,1.31],
[378.3,1.79],[379.9,1.72],[381.5,1.66],[383.1,1.6],[385.5,1.55],[387.9,1.48],[390.3,1.4],[392.7,1.31],[462.8,0.57],[464.4,0.5],[466,0.43],[467.6,0.36],
[489.9,-0.07],[491.5,-0.03],[493.1,0.01],[494.7,0.05],[497,0.09],[499.4,0.12],[501.8,0.09],[504.2,0.05],[506.6,-0.02],[508,-0.1],[509.6,-0.19],
[547.3,-0.67],[549.7,-0.76],[552,-0.83],[554.4,-0.88],[556.8,-0.9],[559.2,-0.91],[561.6,-0.9],[564,-0.88],[566.4,-0.83]
];
// [day, precipitation (mm)]
const precip = [
[0.2,4.5],[1.2,4.5],[1.9,13.1],[2.6,1.7],[3.6,0.5],[8.6,0.9],[13.1,2.7],[19,3.9],[22.1,1.2],[25,5.4],[27.8,2.1],[28.8,1.2],[29.7,1.2],[30.7,3.6],[31.9,47.4],[32.8,0.9],[33.5,5.8],[34.5,7.2],[35.7,21.9],[37.8,1.5],[45,0.9],[50.7,2.1],[60.2,4.9],[60.9,3.6],[62.1,23.8],[63.8,1.7],[88,4.9],[91.1,0.5],[100.2,1.8],[104,18],[104.9,16.2],[107.1,8.2],[108,8.2],[109,4.2],[129.2,1.5],[142.3,0.5],[172,7.8],[173.2,6.4],[223.2,9.4],[224.4,0.5],[256.5,2.1],[257.7,2.7],[260.1,0.9],[261.3,1.1],[269.1,0.5],[273.1,15],[293.4,62.1],[295,2.9],[326,0.9],[330.3,1.5],[333.3,6.6],[336.2,2.9],[342.1,0.9],[343.3,0.9],[345.2,0.5],[350,7],[352.1,7.8],[354,2.9],[355.2,57.2],[356.2,10],[357.2,56.9],[357.6,57.2],[358.1,49.9],[358.6,56],[359,18.6],[360,12.5],[360.7,10.7],[361.9,11.9],[363.1,25.4],[364,16.2],[365.2,1.7],[368.3,22.3],[369,36],[370,1.5],[371.4,4.2],[372.1,15.2],[374.7,2.1],[375.9,15],[377.1,14.3],[378.3,4.2],[384.3,0.5],[388.1,2.9],[389,8.2],[391.4,6.1],[398.8,2.7],[400.4,23.5],[404,8.2],[405.2,2.1],[405.9,7.8],[407.1,2.9],[408.1,6.1],[408.8,5.8],[410.4,1.5],[411.1,41.3],[411.9,26.6],[413.5,2.1],[414.2,17.4],[415.2,7],[417.1,15.2],[418.3,15.2],[419,9.4],[420.7,35.2],[421.4,7],[423.1,0.9],[424.7,9.8],[426.1,16.2],[427.1,27.6],[428.3,0.9],[430.2,11.5],[431.4,8.2],[432.1,19.9],[435,2.1],[442.8,0.5],[448.5,9.1],[449.2,7.4],[453.3,14.3],[454.2,1.5],[467.5,9.1],[469.4,1.7],[470.6,11],[471.3,43.4],[472,74.8],[473,31.9],[474.6,0.9],[476.1,4.5],[494.4,0.9],[495.1,15.8],[496.1,7.8],[497.9,2.9],[525.3,18],[526,2.5],[529.4,2.7],[539.6,0.5],[594.3,15.9],[595.5,0.9],[624.5,1.2],[625.2,2.9],[628.3,0.5],[631.2,2.7],[641.4,4.5],[645,2.5],[645.9,1.5],[647.4,47.4],[648.3,8.2],[667.4,6.6],[668.3,26.2],[669.3,0.9],[677.6,0.5],[678.3,15.8],[683.5,21.7],[686.4,8.2],[689.5,5.4],[691.9,11.9],[693.1,6.4],[696.6,17.2],[698.3,9.4],[699.7,1.5],[700.7,1.7],[702.6,0.5],[704.5,3.7],[705.4,18.9],[706.4,67],[707.3,49.5],[708.5,1.2],[717.3,26.2],[718.5,33.9],[719.2,6.4],[720.4,41.3],[721.6,11.5],[722.8,2.5],[724.5,0.9],[729.5,33.9],[730.4,20.5]
];
// linear trend lines [day, value]
const trendJdiff = [[0,-0.02],[730,0.11]];
const trendAdv = [[0,-0.002],[730,0.009]];
const trendCond = [[0,-0.05],[730,0.35]];
// season boundaries (days)
const seasonBounds = [83,174.4,266.6,358.3,449.6,540.7,633,724];
const seasonNames = ['Winter','Spring','Summer','Autumm','Winter','Spring','Summer','Autumm'];
const yearNames = ['2009','2010'];
const seriesNames = ['11 -> 62cm','62 -> 125cm','125 -> 157.5cm'];
const xMajor = [0,30,61,91,122,152,182,213,243,274,304,334,365,395,426,456,486,517,547,578,608,638,669,699,730];
const xMinor = [15,45.5,76,106.5,137,167,197.5,228,258.5,289,319,349.5,380,410.5,441,471,501.5,532,562.5,593,623,653.5,684,714.5];

// ---------------- BUILD ----------------
const W=1128,H=1390;
const px=x=>x/W, py=y=>1-y/H;
const col=(a,i)=>a.map(r=>r[i]);
const RED='#ff0000', GREEN='#33cc33', BLUE='#0000ff';
const FONT='Liberation Sans, Arial, sans-serif';
const xDom=[px(85.7),px(1108.5)];

function pts(arr,yi,color,size,xa,ya){
  return {type:'scatter',mode:'markers',x:col(arr,0),y:col(arr,yi),xaxis:xa,yaxis:ya,
    marker:{color:color,size:size,line:{width:0}},cliponaxis:false,showlegend:false,hoverinfo:'skip'};
}
function trend(arr,xa,ya){
  return {type:'scatter',mode:'lines',x:col(arr,0),y:col(arr,1),xaxis:xa,yaxis:ya,
    line:{color:'#9a9a9a',width:2.2,dash:'7px,4px'},showlegend:false,hoverinfo:'skip'};
}
const traces=[
  pts(red12,1,RED,7,'x','y'),pts(green12,1,GREEN,6.5,'x','y'),pts(blue12,1,BLUE,7,'x','y'),trend(trendJdiff,'x','y'),
  pts(red12,2,RED,7,'x2','y2'),pts(green12,2,GREEN,6.5,'x2','y2'),pts(blue12,2,BLUE,7,'x2','y2'),trend(trendAdv,'x2','y2'),
  pts(red3,1,RED,7,'x3','y3'),pts(green3,1,GREEN,6.5,'x3','y3'),pts(blue3,1,BLUE,7,'x3','y3'),trend(trendCond,'x3','y3'),
  {type:'bar',x:col(precip,0),y:col(precip,1),xaxis:'x4',yaxis:'y4',width:0.95,
   marker:{color:'rgba(55,55,255,0.85)',line:{width:0}},showlegend:false,hoverinfo:'skip'}
];

function xax(anchor,labels){
  const o={domain:xDom,range:[0,730],anchor:anchor,showline:true,linecolor:'#111',linewidth:1.5,
    ticks:'outside',tickmode:'array',tickvals:xMajor,
    ticklen:labels?11:17,tickwidth:1.5,tickcolor:'#333',
    minor:{tickmode:'array',tickvals:xMinor,ticklen:11,tickwidth:1.5,tickcolor:'#333',ticks:'outside',showgrid:false},
    showgrid:false,zeroline:false,showticklabels:labels,
    tickfont:{family:FONT,size:15,color:'#111'},ticklabelstandoff:8};
  if(labels) o.ticktext=xMajor.map(String);
  if(anchor!=='y') o.matches='x';
  return o;
}
function yax(dom,range,major,text,minor,anchor){
  return {domain:dom,range:range,anchor:anchor,showline:true,linecolor:'#111',linewidth:1.5,
    ticks:'outside',tickmode:'array',tickvals:major,ticktext:text,ticklen:17,tickwidth:1.5,tickcolor:'#333',
    minor:{tickmode:'array',tickvals:minor,ticklen:11,tickwidth:1.5,tickcolor:'#333',ticks:'outside',showgrid:false},
    showgrid:false,zeroline:false,tickfont:{family:FONT,size:15,color:'#111'},ticklabelstandoff:4};
}
const layout={
  width:W,height:H,margin:{l:0,r:0,t:0,b:0},paper_bgcolor:'#fff',plot_bgcolor:'rgba(0,0,0,0)',
  showlegend:false,font:{family:FONT,color:'#111'},bargap:0,
  xaxis:xax('y',false),
  yaxis:yax([py(396),py(89)],[-3.5,3],[-3,-2,-1,0,1,2,3],['-3','-2','-1','0','1','2','3'],[-3.5,-2.5,-1.5,-0.5,0.5,1.5,2.5],'x'),
  xaxis2:xax('y2',false),
  yaxis2:yax([py(737.3),py(430)],[-0.3,0.2],[-0.3,-0.2,-0.1,0,0.1,0.2],['-0.3','-0.2','-0.1','0','0.1','0.2'],[-0.25,-0.15,-0.05,0.05,0.15],'x2'),
  xaxis3:xax('y3',false),
  yaxis3:yax([py(1078.7),py(771)],[-10,12],[-8,-4,0,4,8,12],['-8','-4','0','4','8','12'],[-10,-6,-2,2,6,10],'x3'),
  xaxis4:xax('y4',true),
  yaxis4:yax([py(1317.3),py(1113)],[0,75],[0,15,30,45,60,75],['0','15','30','45','60','75'],[5,10,20,25,35,40,50,55,65,70],'x4'),
  shapes:[],annotations:[]
};

// season dashed boundaries
seasonBounds.forEach(d=>layout.shapes.push({type:'line',xref:'x',yref:'paper',x0:d,x1:d,y0:py(1322),y1:py(76),
  line:{color:'#9a9a9a',width:1.5,dash:'20px,12px'},layer:'above'}));

const GRAY='#858585';
function P(points){return points.map((p,i)=>(i?'L':'M')+px(p[0])+','+py(p[1])).join(' ');}
function lineShape(x0,y0,x1,y1,w){layout.shapes.push({type:'line',xref:'paper',yref:'paper',x0:px(x0),y0:py(y0),x1:px(x1),y1:py(y1),line:{color:GRAY,width:w}});}
function headFilled(xTip,y,dir){
  layout.shapes.push({type:'path',xref:'paper',yref:'paper',path:P([[xTip,y],[xTip-dir*11,y-4.5],[xTip-dir*8,y],[xTip-dir*11,y+4.5]])+' Z',
    fillcolor:GRAY,line:{color:GRAY,width:1}});
}
const yearArr=[[80,297,363,590,329],[592,815,877,1105,846]];
yearArr.forEach((a,i)=>{
  lineShape(a[0],21,a[1],21,1.6); lineShape(a[2],21,a[3],21,1.6);
  headFilled(a[0],21,-1); headFilled(a[3],21,1);
  layout.annotations.push({xref:'paper',yref:'paper',x:px(a[4]),y:py(20),text:yearNames[i],showarrow:false,
    xanchor:'center',yanchor:'middle',font:{family:FONT,size:24,color:GRAY}});
});
const seasArr=[[85,201,144],[202,329,265],[331,458,393],[460,587,523],[588,714,648],[716,843,781],[844,971,906],[973,1102,1033]];
seasArr.forEach((a,i)=>{
  lineShape(a[0],69,a[1],69,1.4);
  layout.shapes.push({type:'path',xref:'paper',yref:'paper',path:P([[a[0]+9,64.5],[a[0],69],[a[0]+9,73.5]]),line:{color:GRAY,width:1.4}});
  layout.shapes.push({type:'path',xref:'paper',yref:'paper',path:P([[a[1]-9,64.5],[a[1],69],[a[1]-9,73.5]]),line:{color:GRAY,width:1.4}});
  layout.annotations.push({xref:'paper',yref:'paper',x:px(a[2]),y:py(55),text:seasonNames[i],showarrow:false,
    xanchor:'center',yanchor:'middle',font:{family:FONT,size:18,color:GRAY}});
});
const ytitles=[['Jdiff (mm/year)',25,235],['Jheat<sub>adv</sub> (J/m<sup>2</sup>s)',23,577],
  ['Jheat<sub>adv+cond</sub> (J/m<sup>2</sup>s)',22,917],['Precip. (mm)',27,1207]];
ytitles.forEach(t=>layout.annotations.push({xref:'paper',yref:'paper',x:px(t[1]),y:py(t[2]),text:'<b>'+t[0]+'</b>',
  textangle:-90,showarrow:false,xanchor:'center',yanchor:'middle',font:{family:FONT,size:18,color:'#111'}}));
layout.annotations.push({xref:'paper',yref:'paper',x:px(593),y:py(1378),text:'<b>Time (days)</b>',showarrow:false,
  xanchor:'center',yanchor:'middle',font:{family:FONT,size:17.5,color:'#111'}});
[[RED,328],[GREEN,355],[BLUE,382]].forEach((l,i)=>{
  layout.shapes.push({type:'circle',xref:'paper',yref:'paper',x0:px(961),x1:px(971),y0:py(l[1]+5),y1:py(l[1]-5),
    fillcolor:l[0],line:{width:0}});
  layout.annotations.push({xref:'paper',yref:'paper',x:px(993),y:py(l[1]),text:seriesNames[i],showarrow:false,
    xanchor:'left',yanchor:'middle',font:{family:FONT,size:15,color:'#111'}});
});

Plotly.newPlot('chart',traces,layout,{staticPlot:true,displayModeBar:false});
</script></body></html>
